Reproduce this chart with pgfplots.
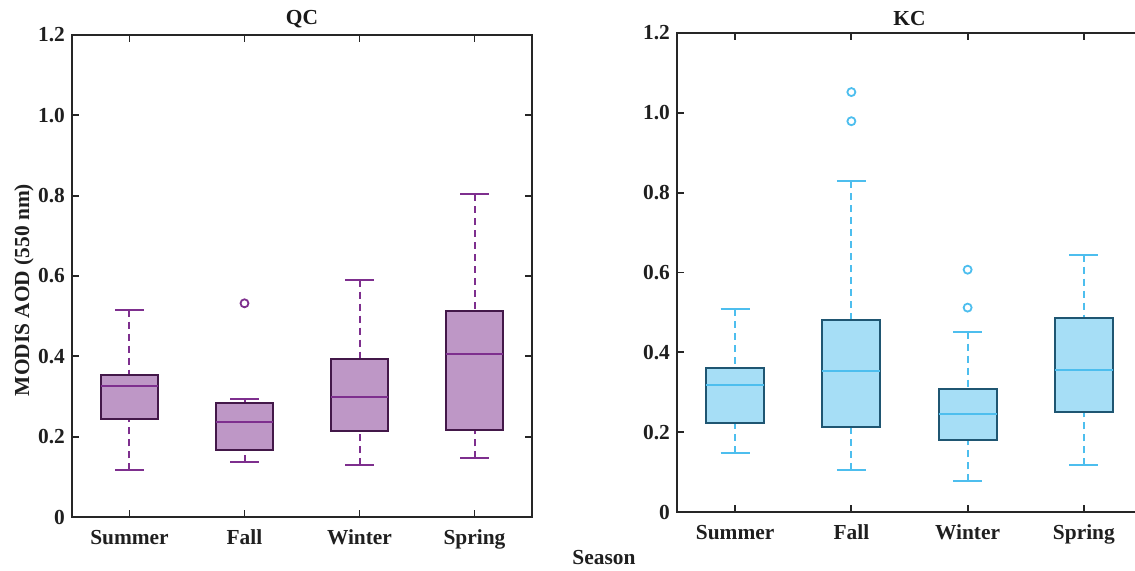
\documentclass[border=0pt]{standalone}
\usepackage{fontspec}
\setmainfont{Liberation Serif}
\usepackage{pgfplots}
\pgfplotsset{compat=1.18}
\usepgfplotslibrary{statistics}
\definecolor{qcmain}{HTML}{7E2F8E}
\definecolor{qcfill}{HTML}{BE97C6}
\definecolor{qcedge}{HTML}{431849}
\definecolor{kcmain}{HTML}{4DBEEE}
\definecolor{kcfill}{HTML}{A6DEF6}
\definecolor{kcedge}{HTML}{1F5672}
\definecolor{axcol}{HTML}{262626}
\newcommand{\lblfont}{\fontsize{10.7}{12.5}\selectfont\bfseries}
\pgfplotsset{
  myaxis/.style={
    scale only axis,
    xmin=0.5, xmax=4.5, ymin=0, ymax=1.2,
    xtick={1,2,3,4},
    xticklabels={Summer,Fall,Winter,Spring},
    ytick={0,0.2,0.4,0.6,0.8,1.0,1.2},
    yticklabels={0,0.2,0.4,0.6,0.8,1.0,1.2},
    tick align=inside,
    xtick pos=both, ytick pos=both,
    xticklabel pos=lower, yticklabel pos=left,
    major tick length=3.5pt,
    every tick/.style={axcol, line width=0.9pt},
    axis line style={axcol, line width=1.1pt},
    ticklabel style={font=\lblfont, text=black!88},
    xticklabel style={yshift=-3pt},
    title style={font=\lblfont, text=black!90, at={(0.5,1)}, anchor=south, yshift=-6pt},
    boxplot/draw direction=y,
    boxplot/box extend=0.5,
    boxplot/whisker extend=0.25,
    /pgfplots/boxplot/draw/lower whisker/.code={%
      \draw[/pgfplots/boxplot/every whisker/.try, dash pattern=on 3.5pt off 2.5pt]
        (boxplot box cs:\pgfplotsboxplotvalue{lower whisker},0.5) --
        (boxplot box cs:\pgfplotsboxplotvalue{lower quartile},0.5);
      \draw[/pgfplots/boxplot/every whisker/.try]
        (boxplot whisker cs:\pgfplotsboxplotvalue{lower whisker},0) --
        (boxplot whisker cs:\pgfplotsboxplotvalue{lower whisker},1);
    },
    /pgfplots/boxplot/draw/upper whisker/.code={%
      \draw[/pgfplots/boxplot/every whisker/.try, dash pattern=on 3.5pt off 2.5pt]
        (boxplot box cs:\pgfplotsboxplotvalue{upper whisker},0.5) --
        (boxplot box cs:\pgfplotsboxplotvalue{upper quartile},0.5);
      \draw[/pgfplots/boxplot/every whisker/.try]
        (boxplot whisker cs:\pgfplotsboxplotvalue{upper whisker},0) --
        (boxplot whisker cs:\pgfplotsboxplotvalue{upper whisker},1);
    },
  },
  qcbox/.style={qcmain, boxplot/draw direction=y,
    boxplot/every box/.style={fill=qcfill, draw=qcedge, line width=1pt},
    boxplot/every median/.style={draw=qcmain, line width=0.9pt},
    boxplot/every whisker/.style={draw=qcmain, line width=1pt}},
  kcbox/.style={kcmain, boxplot/draw direction=y,
    boxplot/every box/.style={fill=kcfill, draw=kcedge, line width=1pt},
    boxplot/every median/.style={draw=kcmain, line width=0.9pt},
    boxplot/every whisker/.style={draw=kcmain, line width=1pt}},
}
\begin{document}
\begin{tikzpicture}
\useasboundingbox (0,0) rectangle (567.5pt,285.5pt);
\clip (0,0) rectangle (567.5pt,285.5pt);
% ---------------- QC ----------------
\begin{axis}[myaxis, at={(36pt,27pt)}, anchor=south west,
  width=230pt, height=241pt, title={QC}]
\addplot[qcbox, boxplot prepared={draw position=1, median=0.326, upper quartile=0.353,
  lower quartile=0.243, upper whisker=0.516, lower whisker=0.116}] coordinates {};
\addplot[qcbox, boxplot prepared={draw position=2, median=0.236, upper quartile=0.284,
  lower quartile=0.168, upper whisker=0.294, lower whisker=0.137}] coordinates {};
\addplot[qcbox, boxplot prepared={draw position=3, median=0.299, upper quartile=0.394,
  lower quartile=0.213, upper whisker=0.591, lower whisker=0.129}] coordinates {};
\addplot[qcbox, boxplot prepared={draw position=4, median=0.405, upper quartile=0.514,
  lower quartile=0.216, upper whisker=0.803, lower whisker=0.146}] coordinates {};
\addplot[only marks, mark=o, mark size=2pt, qcmain, line width=0.9pt]
  coordinates {(2,0.532)};
\end{axis}
% ---------------- KC ----------------
\begin{axis}[myaxis, at={(338.5pt,29.5pt)}, anchor=south west,
  width=232.5pt, height=239.5pt, title={KC}]
\addplot[kcbox, boxplot prepared={draw position=1, median=0.319, upper quartile=0.361,
  lower quartile=0.224, upper whisker=0.508, lower whisker=0.149}] coordinates {};
\addplot[kcbox, boxplot prepared={draw position=2, median=0.354, upper quartile=0.480,
  lower quartile=0.214, upper whisker=0.828, lower whisker=0.106}] coordinates {};
\addplot[kcbox, boxplot prepared={draw position=3, median=0.245, upper quartile=0.308,
  lower quartile=0.180, upper whisker=0.452, lower whisker=0.077}] coordinates {};
\addplot[kcbox, boxplot prepared={draw position=4, median=0.356, upper quartile=0.486,
  lower quartile=0.250, upper whisker=0.645, lower whisker=0.117}] coordinates {};
\addplot[only marks, mark=o, mark size=2pt, kcmain, line width=0.9pt]
  coordinates {(2,1.052) (2,0.979) (3,0.607) (3,0.512)};
\end{axis}
\node[font=\lblfont, text=black!88, rotate=90] at (12pt,140.5pt) {MODIS AOD (550 nm)};
\node[font=\lblfont, text=black!88] at (302pt,6.8pt) {Season};
\end{tikzpicture}
\end{document}
